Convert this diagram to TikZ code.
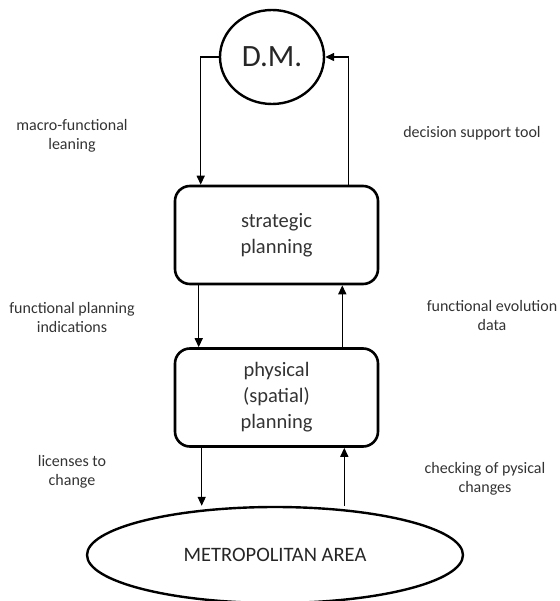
\documentclass[tikz,border=0pt]{standalone}
\usepackage{fontspec}
\setmainfont{Carlito}
\usetikzlibrary{arrows.meta, positioning, shapes.geometric, calc}

\tikzset{
    planbox/.style={draw, line width=2.6pt, rounded corners=15pt, minimum width=203pt,
        minimum height=98pt, align=center, font=\fontsize{20.5}{26}\selectfont, text=black!80},
    roundnode/.style={draw, line width=2.4pt, ellipse, inner sep=0pt, text=black!85},
    flowlabel/.style={align=center, font=\fontsize{16}{19}\selectfont, text=black!80},
    flow/.style={line width=1.4pt, -{Triangle[length=9pt, width=8pt]}}
}

\begin{document}
\begin{tikzpicture}[x=1pt, y=-1pt]
    \useasboundingbox (0,0) rectangle (559,601);

    \node[roundnode, minimum width=104pt, minimum height=94pt,
        font=\fontsize{31}{33}\selectfont] (dm) at (272,57) {D.M.};
    \node[planbox] (strat) at (276.5,235) {strategic\\planning};
    \node[planbox] (phys) at (276.5,397.5) {physical\\(spatial)\\planning};
    \node[roundnode, minimum width=376pt, minimum height=96pt,
        font=\fontsize{20.5}{22}\selectfont] (metro) at (275,555) {METROPOLITAN AREA};

    % labels
    \node[flowlabel] (lean) at (72,136) {macro-functional\\leaning};
    \node[flowlabel] (tool) at (472,133) {decision support tool};
    \node[flowlabel] (indic) at (72,318) {functional planning\\indications};
    \node[flowlabel] (evol) at (492,316) {functional evolution\\data};
    \node[flowlabel] (lic) at (72,472) {licenses to\\change};
    \node[flowlabel] (check) at (485,479) {checking of pysical\\changes};

    % connectors
    \coordinate (sa) at ($(strat.north west)+(27,0)$);
    \coordinate (sb) at ($(strat.north east)+(-31,0)$);
    \coordinate (sc) at ($(strat.south west)+(25,0)$);
    \coordinate (sd) at ($(strat.south east)+(-37,0)$);
    \coordinate (pa) at ($(phys.south west)+(28,0)$);
    \coordinate (pb) at ($(phys.south east)+(-35,0)$);

    \draw[flow] (dm.west) -| (sa);
    \draw[flow] (sb) |- (dm.east);
    \draw[flow] (sc) -- (sc |- phys.north);
    \draw[flow] (sd |- phys.north) -- (sd);
    \draw[flow] (pa) -- (pa |- metro.north);
    \draw[flow] (pb |- metro.north) -- (pb);
\end{tikzpicture}
\end{document}
